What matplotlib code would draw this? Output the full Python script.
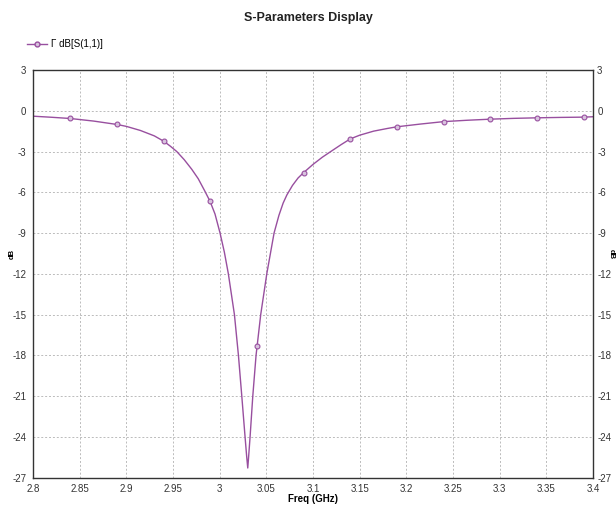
import matplotlib
matplotlib.use("Agg")
import matplotlib.pyplot as plt
from matplotlib.lines import Line2D
from matplotlib import font_manager

# curve (GHz, dB)
freq = [2.80, 2.82, 2.84, 2.865, 2.89, 2.90, 2.915, 2.93, 2.94, 2.947, 2.954,
        2.962, 2.97, 2.977, 2.984, 2.9897, 2.995, 3.0004, 3.005, 3.0093, 3.0158,
        3.0201, 3.0237, 3.0272, 3.029, 3.0301, 3.031, 3.0326, 3.0355, 3.039,
        3.044, 3.0505, 3.0583, 3.0635, 3.068, 3.072, 3.078, 3.084, 3.0897, 3.10,
        3.11, 3.118, 3.13, 3.14, 3.15, 3.165, 3.18, 3.19, 3.215, 3.24, 3.265,
        3.29, 3.315, 3.34, 3.365, 3.39, 3.40]
s11_db = [-0.40, -0.48, -0.57, -0.76, -1.01, -1.15, -1.45, -1.85, -2.24, -2.6, -3.0,
          -3.6, -4.3, -5.0, -5.9, -6.67, -7.6, -9.0, -10.4, -12.0, -15.0,
          -18.0, -21.0, -24.0, -25.5, -26.3, -25.5, -24.0, -21.0, -18.0,
          -15.0, -12.0, -9.0, -7.7, -6.8, -6.2, -5.5, -4.95, -4.57, -3.95,
          -3.42, -3.05, -2.5, -2.07, -1.8, -1.5, -1.3, -1.18, -0.98, -0.80, -0.70,
          -0.62, -0.56, -0.52, -0.49, -0.47, -0.44]

# marker positions
mark_f = [2.84, 2.89, 2.94, 2.99, 3.04, 3.09, 3.14, 3.19, 3.24, 3.29, 3.34, 3.39]
mark_db = [-0.57, -1.01, -2.24, -6.67, -17.3, -4.57, -2.07, -1.18, -0.80, -0.62, -0.52, -0.47]

xticks = [2.8, 2.85, 2.9, 2.95, 3, 3.05, 3.1, 3.15, 3.2, 3.25, 3.3, 3.35, 3.4]
xtick_labels = ["2.8", "2.85", "2.9", "2.95", "3", "3.05", "3.1", "3.15", "3.2",
                "3.25", "3.3", "3.35", "3.4"]
yticks = [3, 0, -3, -6, -9, -12, -15, -18, -21, -24, -27]

names = {f.name for f in font_manager.fontManager.ttflist}
fam = [n for n in ["Liberation Sans Narrow", "Liberation Sans"] if n in names] + ["DejaVu Sans"]
plt.rcParams["font.family"] = fam

col = "#984f9f"
fig = plt.figure(figsize=(6.16, 5.14), dpi=100)
ax = fig.add_axes([0.0536, 0.071, 0.909, 0.7928])

ax.plot(freq, s11_db, color=col, lw=1.0)
ax.plot(mark_f, mark_db, ls="none", marker="o", ms=3.5, mfc="#d8c4de", mec=col, mew=0.8)

ax.set_xlim(2.8, 3.4)
ax.set_ylim(-27, 3)
ax.set_xticks(xticks)
ax.set_xticklabels(xtick_labels)
ax.set_yticks(yticks)
ax.set_yticklabels([str(v) for v in yticks])
ax.tick_params(length=0, labelsize=7, colors="#333333", pad=5)
ax.grid(True, color="#bbbbbb", ls=(0, (2, 2)), lw=0.7)
for s in ax.spines.values():
    s.set_color("#333333")
    s.set_linewidth(1.0)

ax2 = ax.twinx()
ax2.set_ylim(-27, 3)
ax2.set_yticks(yticks)
ax2.set_yticklabels([str(v) for v in yticks])
ax2.tick_params(length=0, labelsize=7, colors="#333333", pad=3)
for s in ax2.spines.values():
    s.set_visible(False)

fig.text(0.02, 0.505, "dB", rotation=90, ha="center", va="center",
         fontsize=5.5, fontweight="bold")
fig.text(0.992, 0.505, "dB", rotation=270, ha="center", va="center",
         fontsize=5.5, fontweight="bold")
ax.set_xlabel("Freq (GHz)", fontsize=7, fontweight="bold", labelpad=0)

fig.text(0.5, 0.965, "S-Parameters Display", ha="center", va="center",
         fontsize=9, fontweight="bold", color="#222222")

h = Line2D([], [], color=col, lw=1.0, marker="o", ms=3.5, mfc="#d8c4de", mec=col)
fig.legend([h], ["Γ dB[S(1,1)]"], loc="center left", bbox_to_anchor=(0.03, 0.914),
           frameon=False, fontsize=7, handlelength=2.0, handletextpad=0.4)

fig.savefig("out.png", dpi=100)
